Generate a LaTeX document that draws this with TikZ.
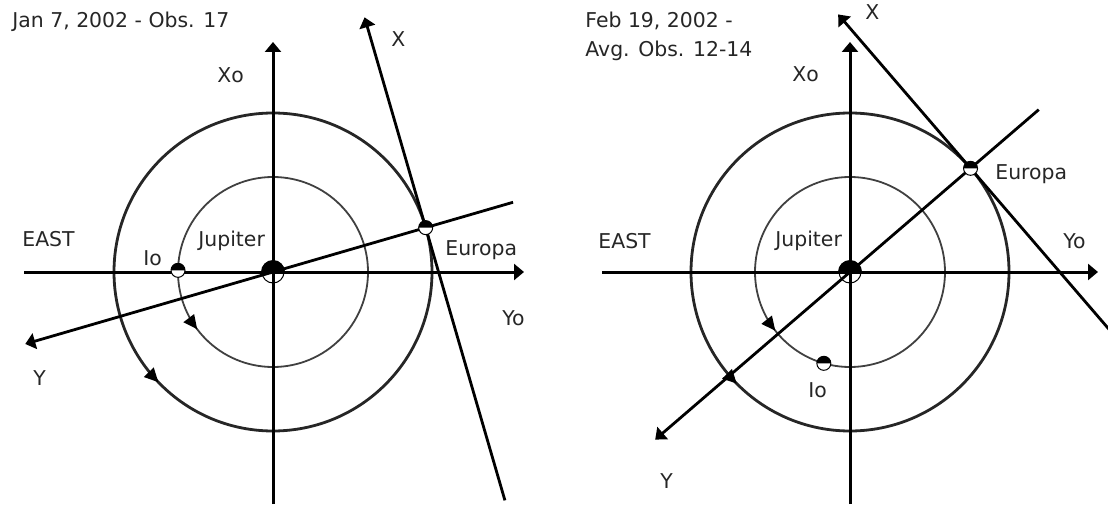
\documentclass[tikz,border=0pt]{standalone}
\usepackage{fontspec}
\setmainfont{DejaVu Sans}
\usetikzlibrary{arrows.meta,decorations.markings}
\tikzset{jovian/.style={x=0.5pt,y=0.5pt,font=\fontsize{10.2}{12}\selectfont}}
\tikzset{axis/.style={black,line width=1.5pt,-{Triangle[length=5pt,width=8pt]}},
         frame/.style={black,line width=1.4pt,-{Triangle[length=5pt,width=8pt]}},
         orbit/.style={black!85,line width=1.4pt},
         ioorbit/.style={black!75,line width=0.9pt},
         goround/.style={postaction={decorate},decoration={markings,
           mark=at position #1 with {\arrow[black]{Triangle[length=7pt,width=6.5pt]}}}},
         lbl/.style={inner sep=0pt,anchor=base west,black!85}}
\newcommand{\halfdisc}[3][white]{%
  \filldraw[fill=#1,draw=black,line width=0.5pt] (#2) circle (#3);
  \fill (#2) ++(#3,0) arc (0:180:#3) -- cycle;}

\begin{document}
\begin{tikzpicture}[jovian]
    \useasboundingbox (0,0) rectangle (1108,504);
    \def\rin{95}
    \def\rout{159}
    \coordinate (jupL) at (273,232);
    \coordinate (jupR) at (850,232);
    % orbits, direction of motion marked
    \foreach \c/\pio/\peu in {jupL/0.603/0.622, jupR/0.606/0.624} {
      \draw[ioorbit,goround=\pio] (\c) circle (\rin);
      \draw[orbit,goround=\peu] (\c) circle (\rout);
    }
    % Jan 7
    \coordinate (xoL0) at (273,0);   \coordinate (xoL) at (273,462);
    \coordinate (eastL) at (24,232); \coordinate (yoL) at (524,232);
    \draw[axis] (xoL0) -- (xoL);
    \draw[axis] (eastL) -- (yoL);
    \path (jupL) ++(16.2:\rout) coordinate (eurL) (jupL) ++(179:\rin) coordinate (ioL);
    \path (jupL) ++(16.2:250) coordinate (yL0) (jupL) ++(196.2:258) coordinate (yL);
    \path (eurL) ++(106.2:219) coordinate (xL) (eurL) ++(-73.8:284) coordinate (xL0);
    \draw[frame] (yL0) -- (yL);
    \draw[frame] (xL0) -- (xL);
    % Feb 19
    \coordinate (xoR0) at (850,0);    \coordinate (xoR) at (850,462);
    \coordinate (eastR) at (602,232); \coordinate (yoR) at (1098,232);
    \draw[axis] (xoR0) -- (xoR);
    \draw[axis] (eastR) -- (yoR);
    \path (jupR) ++(40.7:\rout) coordinate (eurR) (jupR) ++(254:\rin) coordinate (ioR);
    \path (jupR) ++(40.7:249) coordinate (yR0) (jupR) ++(220.7:257) coordinate (yR);
    \path (eurR) ++(130.7:203) coordinate (xR) (eurR) ++(-49.3:215) coordinate (xR0);
    \draw[frame] (yR0) -- (yR);
    \draw[frame] (xR0) -- (xR);
    % planet and moons
    \foreach \c in {jupL,jupR} {
      \fill (\c) ++(12,0) arc (0:180:12) -- cycle;
      \draw[line width=0.5pt] (\c) circle (11);
    }
    \foreach \c in {ioL,eurL,ioR,eurR} \halfdisc{\c}{7};
    % labels
    \node[lbl] (titleL)   at (12,476)  {Jan 7, 2002 - Obs. 17};
    \node[lbl] (xolblL)   at (217,421) {Xo};
    \node[lbl] (xlblL)    at (391,457) {X};
    \node[lbl] (eastlblL) at (22,257)  {EAST};
    \node[lbl] (iolblL)   at (143,239) {Io};
    \node[lbl] (juplblL)  at (198,257) {Jupiter};
    \node[lbl] (eurlblL)  at (445,249) {Europa};
    \node[lbl] (yolblL)   at (502,179) {Yo};
    \node[lbl] (ylblL)    at (33,119)  {Y};
    \node[lbl] (titleR)   at (585,476) {Feb 19, 2002 -};
    \node[lbl] (titleRb)  at (585,447) {Avg. Obs. 12-14};
    \node[lbl] (xlblR)    at (865,484) {X};
    \node[lbl] (xolblR)   at (792,422) {Xo};
    \node[lbl] (eastlblR) at (598,256) {EAST};
    \node[lbl] (juplblR)  at (775,257) {Jupiter};
    \node[lbl] (eurlblR)  at (995,324) {Europa};
    \node[lbl] (yolblR)   at (1063,256) {Yo};
    \node[lbl] (iolblR)   at (808,107) {Io};
    \node[lbl] (ylblR)    at (660,16)  {Y};
  \end{tikzpicture}
\end{document}
